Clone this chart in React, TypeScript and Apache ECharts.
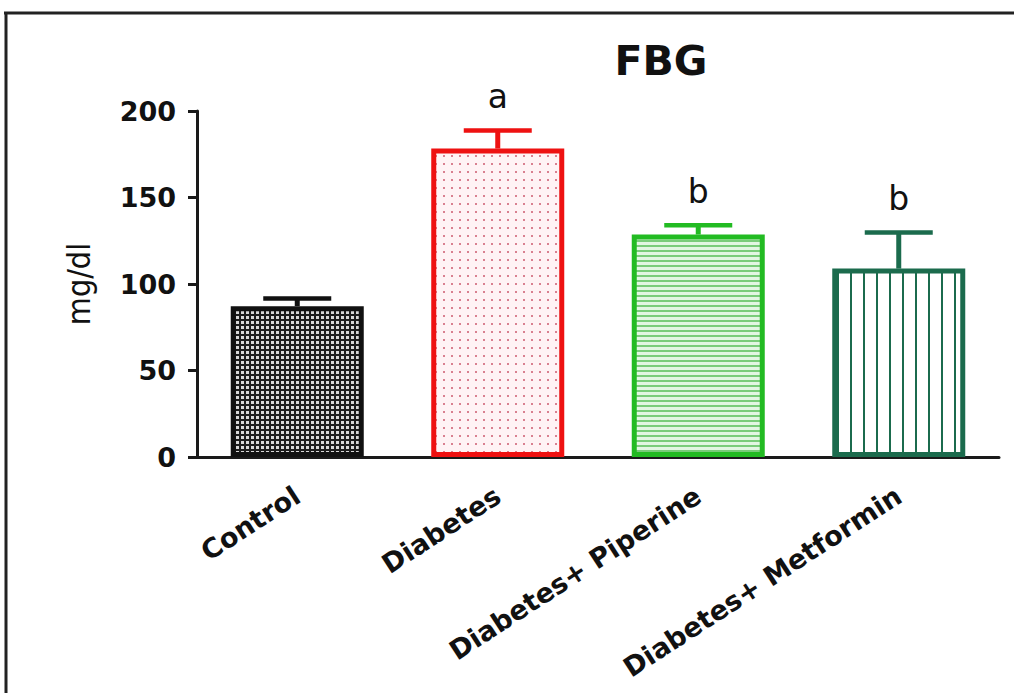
import React, { useEffect, useRef } from "react";
import * as echarts from "echarts";

const categories = ["Control", "Diabetes", "Diabetes+ Piperine", "Diabetes+ Metformin"];
const means = [87.2, 178.3, 128.6, 108.9];
const errorTops = [91.6, 188.8, 133.9, 129.7];
const letters = ["", "a", "b", "b"];
const borderColors = ["#111111", "#ee1111", "#22bb22", "#1b6b4d"];
const yTicks = { min: 0, max: 200, interval: 50 };

function makePattern(kind: string): HTMLCanvasElement {
  const c = document.createElement("canvas");
  let w = 8, h = 8;
  if (kind === "check") { w = 5; h = 5; }
  if (kind === "dots") { w = 8; h = 8; }
  if (kind === "hlines") { w = 4; h = 5; }
  if (kind === "vlines") { w = 13; h = 4; }
  c.width = w; c.height = h;
  const ctx = c.getContext("2d")!;
  if (kind === "check") {
    ctx.fillStyle = "#1c1c1c"; ctx.fillRect(0, 0, w, h);
    ctx.fillStyle = "#d8d8d8"; ctx.fillRect(1, 1, 3, 3);
  } else if (kind === "dots") {
    ctx.fillStyle = "#fff3f5"; ctx.fillRect(0, 0, w, h);
    ctx.fillStyle = "#d98090"; ctx.fillRect(3, 3, 2, 2);
  } else if (kind === "hlines") {
    ctx.fillStyle = "#e2f6e2"; ctx.fillRect(0, 0, w, h);
    ctx.fillStyle = "#7acc7a"; ctx.fillRect(0, 0, w, 2);
  } else {
    ctx.fillStyle = "#ffffff"; ctx.fillRect(0, 0, w, h);
    ctx.fillStyle = "#1b6b4d"; ctx.fillRect(5, 0, 2, h);
  }
  return c;
}

export default function App() {
  const ref = useRef<HTMLDivElement>(null);
  useEffect(() => {
    if (!ref.current) return;
    const chart = echarts.init(ref.current, null, { renderer: "svg" });
    const kinds = ["check", "dots", "hlines", "vlines"];
    const patterns = kinds.map((k) => {
      const cv = makePattern(k);
      return { image: cv.toDataURL(), repeat: "repeat", imageWidth: cv.width, imageHeight: cv.height };
    });
    const bold = "'DejaVu Sans', sans-serif";
    chart.setOption({
      animation: false,
      backgroundColor: "#ffffff",
      title: {
        text: "FBG",
        left: 656,
        top: 35,
        textAlign: "center",
        textStyle: { fontFamily: bold, fontWeight: "bold", fontSize: 41, color: "#111" },
      },
      graphic: [
        { type: "line", shape: { x1: 4, y1: 13, x2: 1014, y2: 13 }, style: { stroke: "#222", lineWidth: 3 } },
        { type: "line", shape: { x1: 6, y1: 12, x2: 6, y2: 693 }, style: { stroke: "#222", lineWidth: 3 } },
      ],
      grid: { left: 197, right: 15, top: 111, bottom: 236 },
      xAxis: {
        type: "category",
        data: categories,
        axisLine: { lineStyle: { color: "#1a1a1a", width: 3 } },
        axisTick: { alignWithLabel: true, length: 8, lineStyle: { color: "#1a1a1a", width: 3 } },
        axisLabel: {
          rotate: 33,
          margin: 36,
          interval: 0,
          fontFamily: bold,
          fontWeight: "bold",
          fontSize: 27,
          color: "#111",
        },
      },
      yAxis: {
        type: "value",
        min: yTicks.min,
        max: yTicks.max,
        interval: yTicks.interval,
        name: "mg/dl",
        nameLocation: "middle",
        nameGap: 102,
        nameTextStyle: {
          fontFamily: "'Liberation Sans Narrow', 'DejaVu Sans Condensed', sans-serif",
          fontSize: 32,
          color: "#111",
        },
        splitLine: { show: false },
        axisLine: { show: true, lineStyle: { color: "#1a1a1a", width: 3 } },
        axisTick: { show: true, length: 9, lineStyle: { color: "#1a1a1a", width: 3 } },
        axisLabel: { fontFamily: bold, fontWeight: "bold", fontSize: 27, color: "#111", margin: 21 },
      },
      series: [
        {
          type: "bar",
          barWidth: 133,
          data: means.map((v, i) => ({
            value: v,
            itemStyle: { color: patterns[i], borderColor: borderColors[i], borderWidth: 5 },
          })),
        },
        {
          type: "custom",
          z: 5,
          data: means.map((m, i) => [i, m, errorTops[i]]),
          renderItem: (params: any, api: any) => {
            const i = params.dataIndex;
            const idx = api.value(0);
            const top = api.coord([idx, api.value(1)]);
            const err = api.coord([idx, api.value(2)]);
            const col = borderColors[i];
            const children: any[] = [
              { type: "line", shape: { x1: top[0], y1: top[1], x2: err[0], y2: err[1] }, style: { stroke: col, lineWidth: 5 } },
              { type: "line", shape: { x1: err[0] - 34, y1: err[1], x2: err[0] + 34, y2: err[1] }, style: { stroke: col, lineWidth: 4.5 } },
            ];
            if (letters[i]) {
              children.push({
                type: "text",
                x: err[0],
                y: err[1] - 34,
                style: {
                  text: letters[i],
                  fontFamily: "'DejaVu Sans', sans-serif",
                  fontSize: 33,
                  fill: "#111",
                  align: "center",
                  verticalAlign: "middle",
                },
              });
            }
            return { type: "group", children };
          },
        },
      ],
    });
    return () => chart.dispose();
  }, []);
  return (
    <div
      ref={ref}
      style={{ position: "fixed", left: 0, top: 0, width: 1014, height: 693, background: "#fff" }}
    />
  );
}
